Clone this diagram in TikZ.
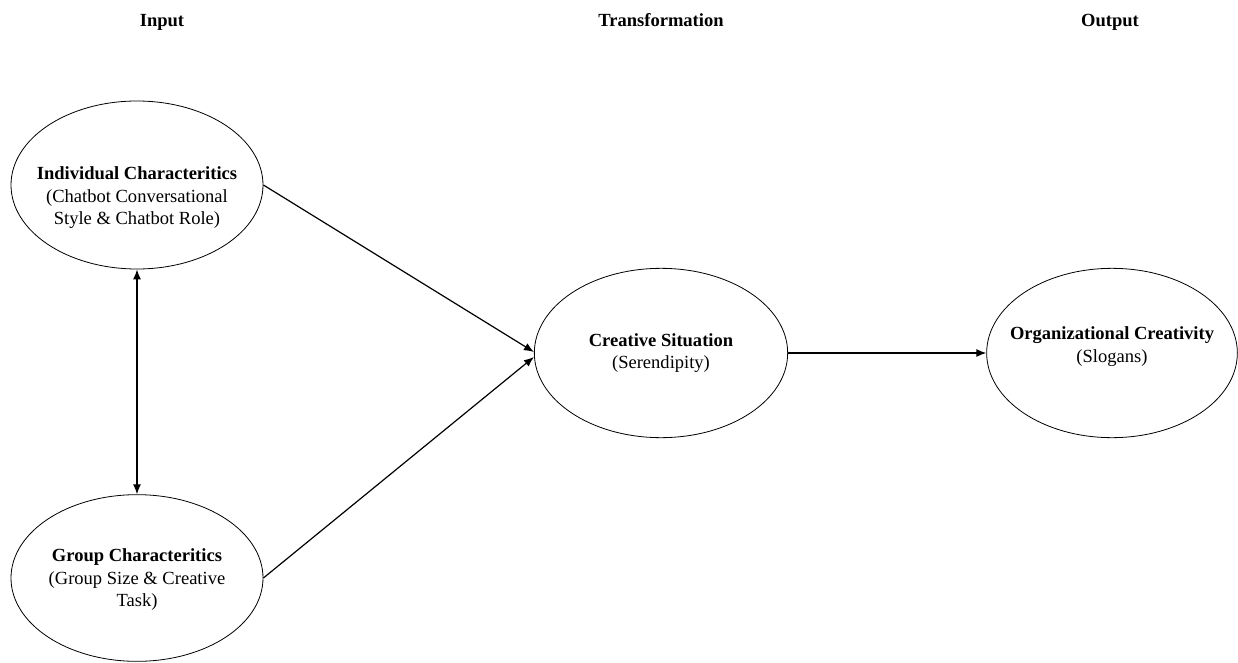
\documentclass[tikz,border=0pt]{standalone}
\usepackage{fontspec}
\setmainfont{Liberation Serif}
\usepackage{tikz}
\usetikzlibrary{arrows.meta,shapes.geometric}

\tikzset{
  blob/.style={ellipse, draw, line width=0.6pt,
               minimum width=189pt, minimum height=126pt},
  txt/.style={align=center, font=\fontsize{13.9}{16.9}\selectfont},
  hdr/.style={anchor=base, font=\fontsize{13.9}{16.9}\selectfont\bfseries},
  link/.style={->, line width=0.9pt}
}

\begin{document}
\begin{tikzpicture}[x=0.75pt,y=-0.75pt,>={Latex[length=7.5pt,width=6pt]}]
    \useasboundingbox (0,0) rectangle (1238,663);

    % column titles
    \node[hdr] (hin)  at (162,27)  {Input};
    \node[hdr] (htr)  at (661,27)  {Transformation};
    \node[hdr] (hout) at (1110,27) {Output};

    % input side
    \node[blob] (ind) at (137,185) {};
    \node[txt] at ([yshift=-9.5pt]ind.center)
        {\textbf{Individual Characteritics}\\(Chatbot Conversational\\Style \& Chatbot Role)};

    \node[blob, minimum height=125pt] (grp) at (137,578) {};
    \node[txt] at ([yshift=-1.5pt]grp.center)
        {\textbf{Group Characteritics}\\(Group Size \& Creative\\Task)};

    % transformation
    \node[blob, minimum width=190pt, minimum height=127pt] (cre) at (661,353) {};
    \node[txt] at (cre.center) {\textbf{Creative Situation}\\(Serendipity)};

    % output
    \node[blob, minimum width=188pt, minimum height=127pt] (org) at (1112,353) {};
    \node[txt] at ([yshift=5pt]org.center) {\textbf{Organizational Creativity}\\(Slogans)};

    \draw[<->, line width=0.9pt] (ind.south) -- (grp.north);
    \draw[link] (ind.east) -- ([yshift=0.75pt]cre.west);
    \draw[link] (grp.east) -- ([yshift=-3pt]cre.west);
    \draw[link] (cre.east) -- (org.west);

\end{tikzpicture}
\end{document}
